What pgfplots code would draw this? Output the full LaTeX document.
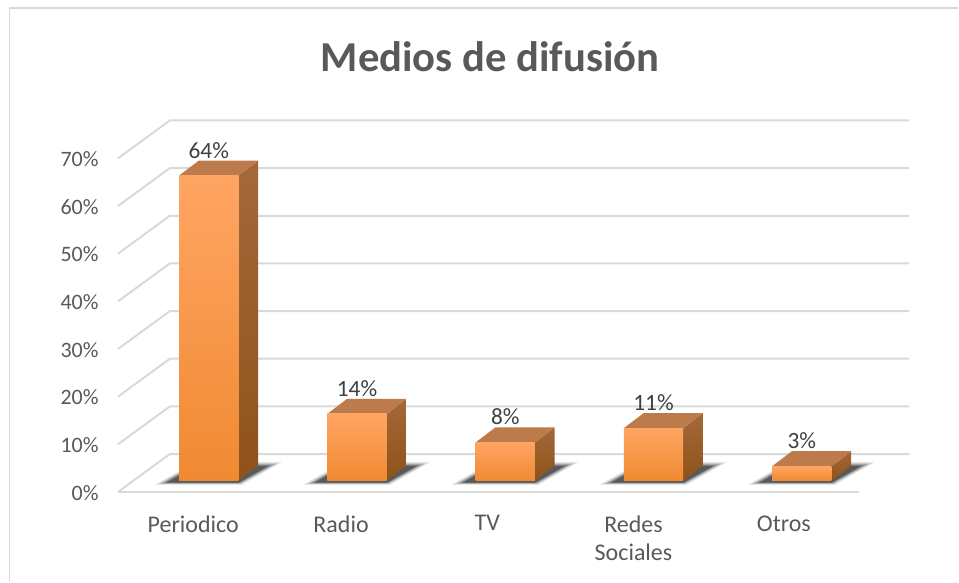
\documentclass[border=0pt]{standalone}
\usepackage{pgfplots}
\pgfplotsset{compat=1.18}
\usepackage{fontspec}
\setmainfont{Carlito}
\definecolor{gridc}{HTML}{D9D9D9}
\definecolor{labc}{HTML}{595959}
\definecolor{valc}{HTML}{404040}
\definecolor{topc}{HTML}{BD7B4C}
\definecolor{sideT}{HTML}{A4693B}
\definecolor{sideB}{HTML}{8F5219}
\definecolor{frontT}{HTML}{FFA563}
\definecolor{frontM}{HTML}{FE9A40}
\definecolor{frontB}{HTML}{F08A32}
\begin{document}
\begin{tikzpicture}
\begin{axis}[
  scale only axis, width=594pt, height=300pt,
  xmin=-0.6132, xmax=4.7237, ymin=-3.98, ymax=79.87,
  clip=false,
  axis line style={draw=none},
  major tick length=0pt,
  xtick={0.003,1,1.987,2.973,3.987},
  xticklabels={Periodico,Radio,TV,{Redes\\Sociales},Otros},
  xticklabel style={font=\fontsize{18pt}{21pt}\selectfont, text=labc, align=center, xshift=-12pt, yshift=-8.5pt, anchor=north},
  ytick={-2.41,7.59,17.59,27.59,37.59,47.59,57.59,67.59},
  yticklabels={0\%,10\%,20\%,30\%,40\%,50\%,60\%,70\%},
  yticklabel style={font=\fontsize{16.5pt}{21pt}\selectfont, text=labc, anchor=east, xshift=-11pt, yshift=-0.5pt},
  title={\fontsize{32pt}{38pt}\selectfont\bfseries Medios de difusión},
  title style={text=labc, at={(axis cs:1.898,87.3)}, anchor=center},
]
% picture extent and chart frame (left and top only)
\path (axis cs:-1.4084,-21.17) rectangle (axis cs:5.0539,100.84);
\addplot[gridc, line width=1.5pt] coordinates {(-1.3443,-21.17) (-1.3443,99.16) (5.0539,99.16)};
% grid
\addplot[gridc, line width=1.5pt] coordinates {(-0.6132,-2.41) (-0.2628,5.56) (4.7237,5.56)};
\addplot[gridc, line width=1.5pt] coordinates {(-0.6132,7.59) (-0.2628,15.56) (4.7237,15.56)};
\addplot[gridc, line width=1.5pt] coordinates {(-0.6132,17.59) (-0.2628,25.56) (4.7237,25.56)};
\addplot[gridc, line width=1.5pt] coordinates {(-0.6132,27.59) (-0.2628,35.56) (4.7237,35.56)};
\addplot[gridc, line width=1.5pt] coordinates {(-0.6132,37.59) (-0.2628,45.56) (4.7237,45.56)};
\addplot[gridc, line width=1.5pt] coordinates {(-0.6132,47.59) (-0.2628,55.56) (4.7237,55.56)};
\addplot[gridc, line width=1.5pt] coordinates {(-0.6132,57.59) (-0.2628,65.56) (4.7237,65.56)};
\addplot[gridc, line width=1.5pt] coordinates {(-0.6132,67.59) (-0.2628,75.56) (4.7237,75.56)};
\addplot[gridc, line width=1.5pt] coordinates {(-0.6132,-2.41) (4.384,-2.41)};
% floor shadows
\pgfplotsinvokeforeach{0,1,2,3,4}{
  \addplot[draw=none, fill=black, fill opacity=0.08, xshift=#1*111.3pt] coordinates {(-0.365,-0.90) (0.225,-0.90) (0.495,3.9) (-0.094,3.9)} -- cycle;
  \addplot[draw=none, fill=black, fill opacity=0.12, xshift=#1*111.3pt] coordinates {(-0.345,-0.75) (0.220,-0.75) (0.475,3.7) (-0.090,3.7)} -- cycle;
  \addplot[draw=none, fill=black, fill opacity=0.18, xshift=#1*111.3pt] coordinates {(-0.325,-0.65) (0.210,-0.65) (0.450,3.5) (-0.085,3.5)} -- cycle;
  \addplot[draw=none, fill=black, fill opacity=0.25, xshift=#1*111.3pt] coordinates {(-0.305,-0.55) (0.205,-0.55) (0.425,3.3) (-0.085,3.3)} -- cycle;
  \addplot[draw=none, fill=black, fill opacity=0.30, xshift=#1*111.3pt] coordinates {(-0.285,-0.45) (0.200,-0.45) (0.400,3.05) (-0.085,3.05)} -- cycle;
}
% side faces
\addplot[draw=none, shade, top color=sideT, bottom color=sideB] coordinates {(0.2,0) (0.2,64) (0.333,67.15) (0.333,3.15)} -- cycle;
\addplot[draw=none, shade, top color=sideT, bottom color=sideB] coordinates {(1.2,0) (1.2,14) (1.333,17.15) (1.333,3.15)} -- cycle;
\addplot[draw=none, shade, top color=sideT, bottom color=sideB] coordinates {(2.2,0) (2.2,8) (2.333,11.15) (2.333,3.15)} -- cycle;
\addplot[draw=none, shade, top color=sideT, bottom color=sideB] coordinates {(3.2,0) (3.2,11) (3.333,14.15) (3.333,3.15)} -- cycle;
\addplot[draw=none, shade, top color=sideT, bottom color=sideB] coordinates {(4.2,0) (4.2,3) (4.333,6.15) (4.333,3.15)} -- cycle;
% top faces
\addplot[draw=none, fill=topc] coordinates {(-0.2,64) (0.2,64) (0.333,67.15) (-0.067,67.15)} -- cycle;
\addplot[draw=none, fill=topc] coordinates {(0.8,14) (1.2,14) (1.333,17.15) (0.933,17.15)} -- cycle;
\addplot[draw=none, fill=topc] coordinates {(1.8,8) (2.2,8) (2.333,11.15) (1.933,11.15)} -- cycle;
\addplot[draw=none, fill=topc] coordinates {(2.8,11) (3.2,11) (3.333,14.15) (2.933,14.15)} -- cycle;
\addplot[draw=none, fill=topc] coordinates {(3.8,3) (4.2,3) (4.333,6.15) (3.933,6.15)} -- cycle;
% front faces with the values
\pgfplotsset{frontbar/.style={ybar, bar shift=0pt, bar width=44.5pt, draw=none, shade, top color=frontT, middle color=frontM, bottom color=frontB,
  nodes near coords={\pgfmathprintnumber[precision=0, assume math mode=true]{\pgfplotspointmeta}\%},
  nodes near coords style={font=\fontsize{17.5pt}{21pt}\selectfont, text=valc, anchor=center, yshift=19pt}}}
\addplot[frontbar] coordinates {(0,64)};
\addplot[frontbar] coordinates {(1,14)};
\addplot[frontbar] coordinates {(2,8)};
\addplot[frontbar] coordinates {(3,11)};
\addplot[frontbar] coordinates {(4,3)};
\end{axis}
\end{tikzpicture}
\end{document}
